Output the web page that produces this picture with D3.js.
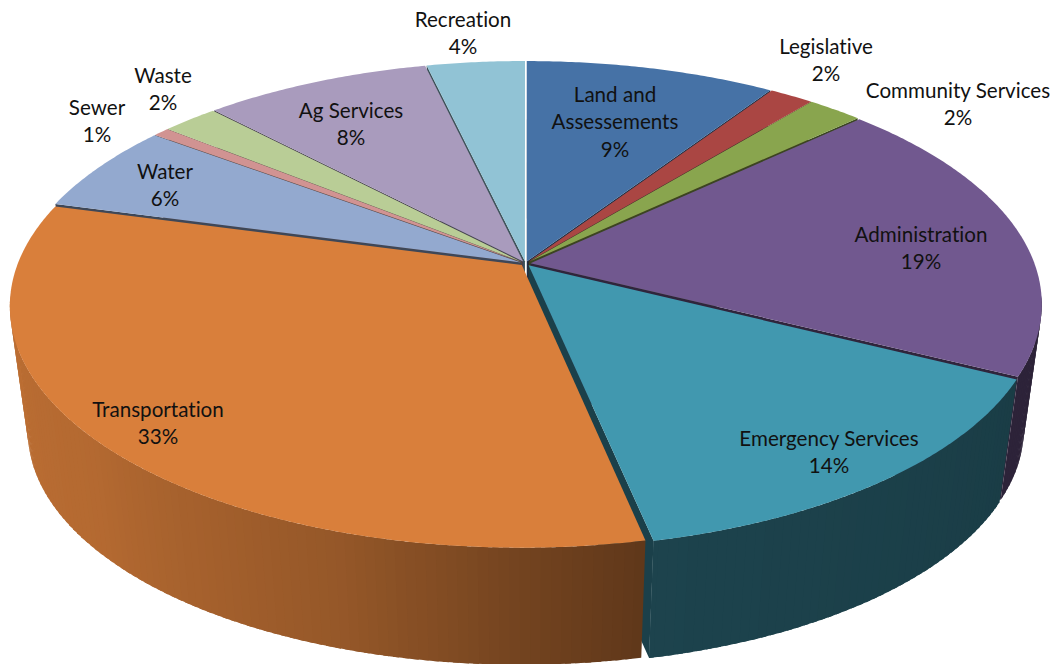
<!DOCTYPE html>
<html>
<head>
<meta charset="utf-8">
<script src="https://cdn.jsdelivr.net/npm/d3@7/dist/d3.min.js"></script>
<style>
  html, body { margin: 0; padding: 0; background: #fff; overflow: hidden; }
  svg { display: block; }
  text { font-family: Lato, "Open Sans", sans-serif; font-size: 20.6px; font-variant-ligatures: none; fill: #111; text-anchor: middle; dominant-baseline: central; }
</style>
</head>
<body>
<svg id="chart" width="1054" height="664"></svg>
<script>
// Budget shares by department, clockwise from twelve o'clock.
const departments = ["Land and Assessements", "Legislative", "Community Services", "Administration",
  "Emergency Services", "Transportation", "Water", "Sewer", "Waste", "Ag Services", "Recreation"];
const shares = [9.3, 1.65, 2.05, 19.4, 14.3, 32.5, 6.0, 0.6, 2.1, 8.45, 3.65];
const colours = ["#4672A6", "#AA4643", "#89A54E", "#71588F", "#4198AF", "#D97F3B",
  "#93A9CF", "#D19392", "#B9CD96", "#A99BBD", "#91C3D5"];

// Wrapped label lines and where each label block is centred on the page.
const labelLines = [["Land and", "Assessements"], ["Legislative"], ["Community Services"], ["Administration"],
  ["Emergency Services"], ["Transportation"], ["Water"], ["Sewer"], ["Waste"], ["Ag Services"], ["Recreation"]];
const labelAnchors = [[615, 94], [826, 46], [958, 90], [921, 234], [829, 438], [158, 409],
  [165, 171], [97, 107], [163, 75], [351, 110], [463, 19]];
const lineStep = 27.3;

// Perspective model of the disc: unit circle to screen, with the near edge enlarged.
const view = { cx: 525.5, cy: 263.5, a: 504, b: 234.5, perspective: 0.168, depth: 127, shrink: 0.035, explode: 0.01 };

// Wall brightness depends on the direction the wall faces (degrees clockwise from the top).
const wallLight = d3.scaleLinear()
  .domain([90, 168, 180, 198, 230, 285])
  .range([0.38, 0.44, 0.53, 0.69, 0.83, 0.89])
  .clamp(true);
const faceLight = 0.42;

const sx = d3.scaleLinear().domain([-1, 1]).range([-view.a, view.a]);
const sy = d3.scaleLinear().domain([-1, 1]).range([-view.b, view.b]);

function project(X, Y, level) {
  const w = 1 - view.perspective * Y;
  const k = 1 - view.shrink * level;
  return [view.cx + k * sx(X) / w, view.cy + view.depth * level + k * sy(Y) / w];
}

function shade(hex, f) {
  const c = d3.rgb(hex);
  return d3.rgb(c.r * f, c.g * f, c.b * f).formatHex();
}

const arcs = d3.pie().sort(null).value(d => d)(shares).map((d, i) => {
  const mid = (d.startAngle + d.endAngle) / 2;
  return { i, start: d.startAngle, end: d.endAngle, mid,
    ox: view.explode * Math.sin(mid), oy: -view.explode * Math.cos(mid) };
});

const rimPoint = (s, angle, level) => project(s.ox + Math.sin(angle), s.oy - Math.cos(angle), level);
const hubPoint = (s, level) => project(s.ox, s.oy, level);

// A cut face can be seen only when its outward normal points at the viewer.
const camY = 1 / view.perspective;
const faceVisible = (s, nx, ny) => nx * (0 - s.ox) + ny * (camY - s.oy) > 0;
const wallVisible = angle => -Math.cos(angle) > view.perspective - 0.03;

const outline = d3.line();
const svg = d3.select("#chart");
const total = d3.sum(shares);
const step = Math.PI / 180;

// Far slices first, so nearer ones overlap them.
const order = arcs.slice().sort((p, q) => -Math.cos(p.mid) - -Math.cos(q.mid));

const layerFaces = svg.append("g");
const layerWalls = svg.append("g");
const layerTops = svg.append("g");

order.forEach(s => {
  const base = colours[s.i];
  const fill = shade(base, faceLight);

  // Radial cut faces, which only show through the gaps between exploded slices.
  [[s.start, -Math.cos(s.start), -Math.sin(s.start)], [s.end, Math.cos(s.end), Math.sin(s.end)]].forEach(([angle, nx, ny]) => {
    if (!faceVisible(s, nx, ny)) return;
    layerFaces.append("path")
      .attr("d", outline([hubPoint(s, 0), rimPoint(s, angle, 0), rimPoint(s, angle, 1), hubPoint(s, 1)]) + "Z")
      .attr("fill", fill);
  });

  // Outer wall, in narrow overlapping strips that pick up the lighting.
  const stops = d3.range(s.start, s.end, step).concat([s.end]);
  d3.pairs(stops).forEach(([a0, a1]) => {
    const am = (a0 + a1) / 2;
    if (!wallVisible(am)) return;
    const a2 = Math.min(a1 + step * 0.6, s.end);
    layerWalls.append("path")
      .attr("d", outline([rimPoint(s, a0, 0), rimPoint(s, a2, 0), rimPoint(s, a2, 1), rimPoint(s, a0, 1)]) + "Z")
      .attr("fill", shade(base, wallLight(am / step)));
  });

  // Top surface.
  const rim = d3.range(s.start, s.end, step / 2).concat([s.end]).map(a => rimPoint(s, a, 0));
  layerTops.append("path")
    .attr("d", outline([hubPoint(s, 0), ...rim]) + "Z")
    .attr("fill", base);
});

// Labels: name lines followed by the rounded percentage.
const labels = svg.selectAll("text.label").data(arcs).join("text").attr("class", "label")
  .attr("transform", s => `translate(${labelAnchors[s.i]})`);
labels.selectAll("tspan")
  .data(s => labelLines[s.i].concat(`${Math.round(shares[s.i] / total * 100)}%`))
  .join("tspan")
  .attr("x", 0)
  .attr("y", (d, i) => i * lineStep)
  .text(d => d);
</script>
</body>
</html>
